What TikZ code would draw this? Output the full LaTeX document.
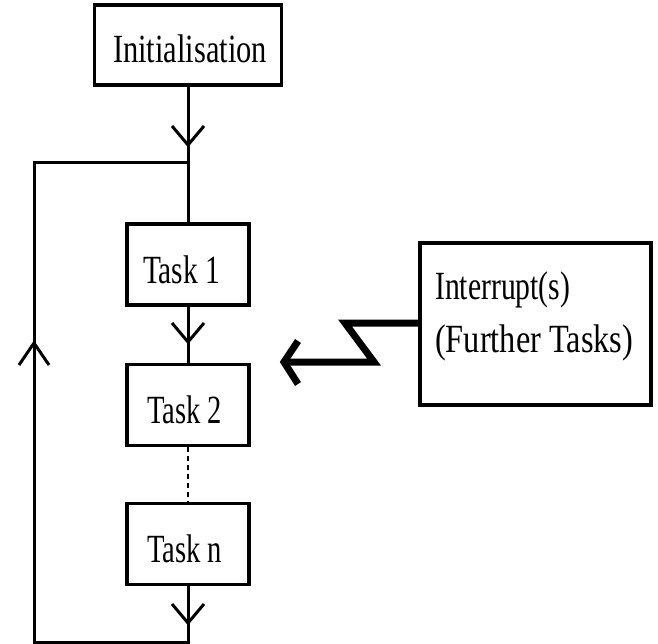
\documentclass[tikz,border=0pt]{standalone}
\usepackage{fontspec}
\setmainfont{Liberation Serif}
\usepackage{graphicx}
% labels are set in a horizontally condensed serif of a given width
\newcommand\narrowtext[2]{\resizebox{#1}{\height}{#2}}
\begin{document}
\begin{tikzpicture}[x=1pt,y=-1pt,
  box/.style={draw, line width=3.5pt, inner sep=0pt,
    minimum width=122pt, minimum height=81pt},
  txt/.style={inner sep=0pt, font=\fontsize{40}{48}\selectfont},
  conn/.style={line width=3pt, line join=miter},
  dotted link/.style={line width=2pt, dash pattern=on 5pt off 4pt},
  bolt/.style={line width=7pt, line join=miter},
  downv/.pic={\draw[conn] (-16,-19) -- (0,0) -- (16,-19);},
  upv/.pic={\draw[conn] (-15,22) -- (0,0) -- (15,22);}
]
\useasboundingbox (0,0) rectangle (658,644);

% main sequence of tasks
\node[box, minimum width=187pt, minimum height=80pt] (init) at (188,45) {};
\node[box] (t1) at (188,264.5) {};
\node[box] (t2) at (188,405) {};
\node[box] (tn) at (188,544) {};
\node[txt, anchor=base] (initl) at (190,63) {\narrowtext{154pt}{Initialisation}};
\node[txt, anchor=base] (t1l) at (181.5,283) {\narrowtext{77pt}{Task 1}};
\node[txt, anchor=base] (t2l) at (184.5,423) {\narrowtext{75pt}{Task 2}};
\node[txt, anchor=base] (tnl) at (184.5,562) {\narrowtext{75pt}{Task n}};

% interrupt box with its two text lines
\node[box, minimum width=231pt, minimum height=162pt] (intr) at (535.5,324) {};
\node[txt, anchor=base west] (intr1) at (435,299) {\narrowtext{135pt}{Interrupt(s)}};
\node[txt, anchor=base west] (intr2) at (435,352) {\narrowtext{198pt}{(Further Tasks)}};

% loop corners
\coordinate (join) at (188,163);
\coordinate (bot) at (188,642);
\coordinate (botleft) at (34,642);
\coordinate (topleft) at (34,163);

\draw[conn] (init.south) -- (join) -- (t1.north);
\draw[conn] (t1.south) -- (t2.north);
\draw[dotted link] (t2.south) -- (tn.north);
\draw[conn] (tn.south) -- (bot) -- (botleft) -- (topleft) -- (join);

% open arrowheads along the lines
\pic at (188,145) {downv};
\pic at (188,342) {downv};
\pic at (188,623) {downv};
\pic at (34,343) {upv};

% lightning-style interrupt arrow
\coordinate (z1) at (345,323);
\coordinate (z2) at (374,362);
\coordinate (ztip) at (284,362);
\draw[bolt] (intr.west |- z1) -- (z1) -- (z2) -- (ztip);
\draw[bolt] (298,341) -- (ztip) -- (298,384);
\end{tikzpicture}
\end{document}
